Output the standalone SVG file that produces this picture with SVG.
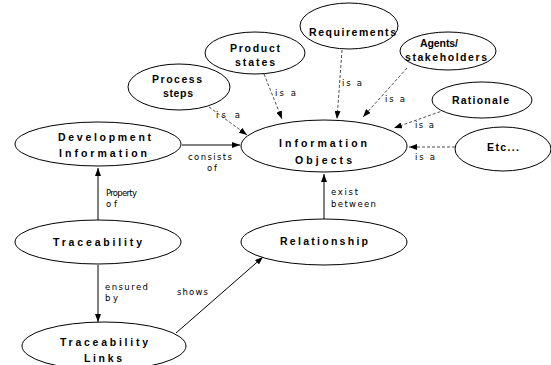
<svg xmlns="http://www.w3.org/2000/svg" width="551" height="365" viewBox="0 0 551 365">
<style>
  .node ellipse { fill: #ffffff; stroke: #000000; stroke-width: 1; }
  .nl { font-family: "Liberation Sans", Arial, sans-serif; font-weight: bold; font-size: 10.5px; fill: #000000; }
  .el { font-family: "DejaVu Sans", "Liberation Sans", sans-serif; font-size: 8.5px; fill: #000000; }
  .solid { stroke: #000000; stroke-width: 1; fill: none; }
  .dash { stroke: #222222; stroke-width: 0.8; fill: none; stroke-dasharray: 3,2; }
</style>
<defs>
  <marker id="arr" viewBox="0 0 8 6" refX="8" refY="3" markerWidth="8" markerHeight="6" markerUnits="userSpaceOnUse" orient="auto">
    <path d="M0,0 L8,3 L0,6 z" fill="#000000"/>
  </marker>
</defs>
<rect x="0" y="0" width="551" height="365" fill="#ffffff"/>

<g id="connectors">
  <line class="solid" x1="182" y1="145" x2="240" y2="145" marker-end="url(#arr)"/>
  <line class="solid" x1="98" y1="220" x2="98" y2="168" marker-end="url(#arr)"/>
  <line class="solid" x1="98" y1="265" x2="98" y2="322" marker-end="url(#arr)"/>
  <line class="solid" x1="176" y1="333" x2="263" y2="257" marker-end="url(#arr)"/>
  <line class="solid" x1="324" y1="219" x2="324" y2="174" marker-end="url(#arr)"/>
  <line class="dash" x1="205" y1="104" x2="247" y2="135" marker-end="url(#arr)"/>
  <line class="dash" x1="264" y1="74" x2="282" y2="119" marker-end="url(#arr)"/>
  <line class="dash" x1="342" y1="50" x2="337" y2="119" marker-end="url(#arr)"/>
  <line class="dash" x1="407" y1="68" x2="363" y2="117" marker-end="url(#arr)"/>
  <line class="dash" x1="445" y1="110" x2="394" y2="128" marker-end="url(#arr)"/>
  <line class="dash" x1="455" y1="147" x2="409" y2="147" marker-end="url(#arr)"/>

  <text class="el" x="188" y="160" textLength="44" lengthAdjust="spacing">consists</text>
  <text class="el" x="207" y="171" textLength="10" lengthAdjust="spacing">of</text>
  <text class="el" x="106" y="196" textLength="31" lengthAdjust="spacing" font-size="7.5">Property</text>
  <text class="el" x="106" y="207" textLength="11" lengthAdjust="spacing">of</text>
  <text class="el" x="105" y="290" textLength="43" lengthAdjust="spacing">ensured</text>
  <text class="el" x="105" y="301" textLength="13" lengthAdjust="spacing">by</text>
  <text class="el" x="177" y="295" textLength="31" lengthAdjust="spacing">shows</text>
  <text class="el" x="331" y="195" textLength="27" lengthAdjust="spacing">exist</text>
  <text class="el" x="331" y="207" textLength="45" lengthAdjust="spacing">between</text>
  <text class="el" x="216" y="118" textLength="24" lengthAdjust="spacing">is a</text>
  <text class="el" x="275" y="96" textLength="21" lengthAdjust="spacing">is a</text>
  <text class="el" x="342" y="86" textLength="20" lengthAdjust="spacing">is a</text>
  <text class="el" x="385" y="102" textLength="20" lengthAdjust="spacing">is a</text>
  <text class="el" x="415" y="128" textLength="19" lengthAdjust="spacing">is a</text>
  <text class="el" x="415" y="160" textLength="20" lengthAdjust="spacing">is a</text>
</g>

<g id="process-steps" class="node">
  <ellipse cx="179" cy="87" rx="51" ry="23"/>
  <text class="nl" x="152" y="83" textLength="50" lengthAdjust="spacing">Process</text>
  <text class="nl" x="163" y="97" textLength="30" lengthAdjust="spacing">steps</text>
</g>
<g id="product-states" class="node">
  <ellipse cx="255" cy="53" rx="50" ry="21"/>
  <text class="nl" x="230" y="52" textLength="50" lengthAdjust="spacing">Product</text>
  <text class="nl" x="235" y="66" textLength="40" lengthAdjust="spacing">states</text>
</g>
<g id="requirements" class="node">
  <ellipse cx="349" cy="26" rx="49" ry="23"/>
  <text class="nl" x="309" y="36" textLength="87" lengthAdjust="spacing">Requirements</text>
</g>
<g id="agents" class="node">
  <ellipse cx="448" cy="51" rx="48" ry="19"/>
  <text class="nl" x="420" y="47" textLength="38" lengthAdjust="spacing">Agents/</text>
  <text class="nl" x="405" y="61" textLength="82" lengthAdjust="spacing">stakeholders</text>
</g>
<g id="rationale" class="node">
  <ellipse cx="482" cy="100" rx="50" ry="18"/>
  <text class="nl" x="452" y="104" textLength="57" lengthAdjust="spacing">Rationale</text>
</g>
<g id="etc" class="node">
  <ellipse cx="503" cy="149" rx="48" ry="22"/>
  <text class="nl" x="487" y="151" textLength="32" lengthAdjust="spacing">Etc...</text>
</g>
<g id="information-objects" class="node">
  <ellipse cx="324" cy="146" rx="83" ry="26"/>
  <text class="nl" x="279" y="147" textLength="88" lengthAdjust="spacing">Information</text>
  <text class="nl" x="295" y="164" textLength="57" lengthAdjust="spacing">Objects</text>
</g>
<g id="development-information" class="node">
  <ellipse cx="98" cy="144" rx="83" ry="22"/>
  <text class="nl" x="58" y="141" textLength="93" lengthAdjust="spacing">Development</text>
  <text class="nl" x="59" y="157" textLength="88" lengthAdjust="spacing">Information</text>
</g>
<g id="traceability" class="node">
  <ellipse cx="98" cy="242" rx="83" ry="22"/>
  <text class="nl" x="53" y="246" textLength="89" lengthAdjust="spacing">Traceability</text>
</g>
<g id="relationship" class="node">
  <ellipse cx="324" cy="242" rx="83" ry="23"/>
  <text class="nl" x="280" y="245" textLength="88" lengthAdjust="spacing">Relationship</text>
</g>
<g id="traceability-links" class="node">
  <ellipse cx="104" cy="346" rx="82" ry="24"/>
  <text class="nl" x="60" y="346" textLength="88" lengthAdjust="spacing">Traceability</text>
  <text class="nl" x="84" y="362" textLength="38" lengthAdjust="spacing">Links</text>
</g>
</svg>
